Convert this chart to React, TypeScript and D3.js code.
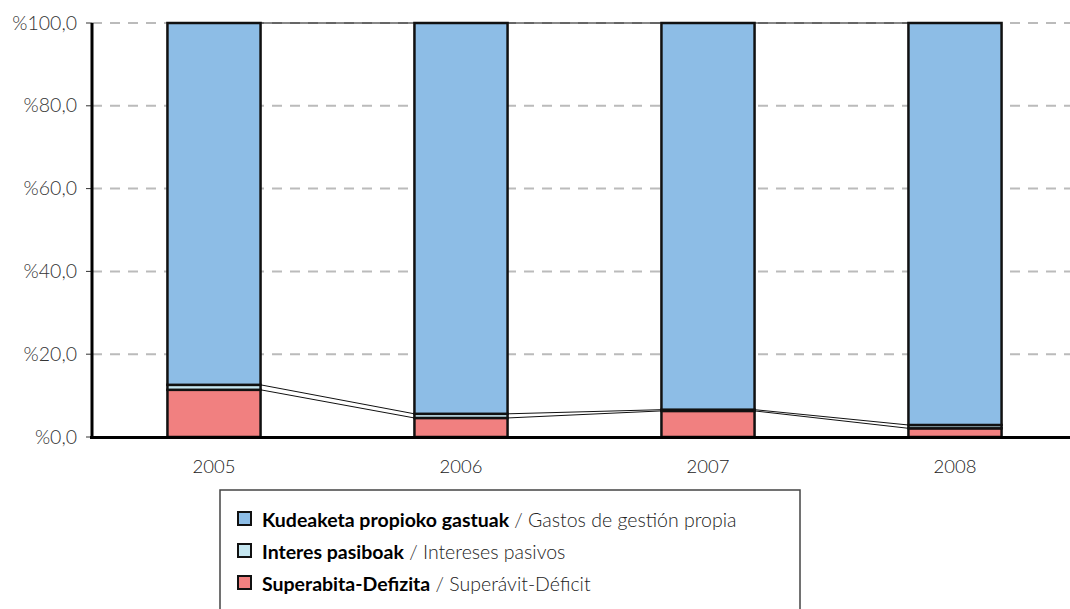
import React from "react";
import * as d3 from "d3";

const years = ["2005", "2006", "2007", "2008"];
const superavit = [11.4, 4.6, 6.3, 2.1];
const interes = [1.2, 1.0, 0.3, 0.8];
const gestion = [87.4, 94.4, 93.4, 97.1];
const yTicks = [0, 20, 40, 60, 80, 100];
const seriesNames = [
  { bold: "Kudeaketa propioko gastuak", rest: " / Gastos de gestión propia", color: "#8dbde6" },
  { bold: "Interes pasiboak", rest: " / Intereses pasivos", color: "#c5e6f0" },
  { bold: "Superabita-Defizita", rest: " / Superávit-Déficit", color: "#f18080" },
];

const W = 1070;
const H = 609;

export default function App() {
  const x = d3
    .scaleBand<string>()
    .domain(years)
    .range([90.5, 1078.5])
    .paddingInner(0.623)
    .paddingOuter(0.3115);
  const y = d3.scaleLinear().domain([0, 100]).range([437, 23]);

  const stackData = years.map((yr, i) => ({
    year: yr,
    superavit: superavit[i],
    interes: interes[i],
    gestion: gestion[i],
  }));
  const stack = d3.stack<any>().keys(["superavit", "interes", "gestion"]);
  const series = stack(stackData);
  const colors: Record<string, string> = {
    superavit: "#f18080",
    interes: "#c5e6f0",
    gestion: "#8dbde6",
  };

  const font = "Lato, 'DejaVu Sans', sans-serif";
  const bw = x.bandwidth();

  return (
    <svg
      width={W}
      height={H}
      style={{ position: "absolute", left: 0, top: 0, background: "#fff" }}
      fontFamily={font}
    >
      {/* gridlines */}
      {yTicks.slice(1).map((t) => (
        <line
          key={t}
          x1={92}
          x2={1070}
          y1={y(t)}
          y2={y(t)}
          stroke="#bbbbbb"
          strokeWidth={2}
          strokeDasharray="10 8"
        />
      ))}
      {/* y tick labels */}
      {yTicks.map((t) => (
        <g key={t}>
          <line x1={86} x2={92} y1={y(t)} y2={y(t)} stroke="#333" strokeWidth={1} />
          <text
            x={77}
            y={y(t) + 6.5}
            textAnchor="end"
            fontSize={19.5}
            fill="#333"
            fontWeight={300}
          >
            {"%" + t.toFixed(1).replace(".", ",")}
          </text>
        </g>
      ))}
      {/* series lines */}
      {series.map((s) =>
        years.slice(0, -1).map((yr, i) => (
          <line
            key={s.key + yr}
            x1={(x(yr) as number) + bw}
            x2={x(years[i + 1]) as number}
            y1={y(s[i][1])}
            y2={y(s[i + 1][1])}
            stroke="#111"
            strokeWidth={1}
          />
        ))
      )}
      {/* bars */}
      {series.map((s) =>
        s.map((d, i) => (
          <rect
            key={s.key + i}
            x={x(years[i]) as number}
            y={y(d[1])}
            width={bw}
            height={y(d[0]) - y(d[1])}
            fill={colors[s.key]}
            stroke="#111"
            strokeWidth={2.5}
          />
        ))
      )}
      {/* axes */}
      <line x1={92} x2={92} y1={23} y2={439} stroke="#000" strokeWidth={3} />
      <line x1={90} x2={1070} y1={437.5} y2={437.5} stroke="#000" strokeWidth={3} />
      {years.map((yr) => (
        <text
          key={yr}
          x={(x(yr) as number) + bw / 2}
          y={473}
          textAnchor="middle"
          fontSize={18.5}
          fill="#222"
          fontWeight={300}
        >
          {yr}
        </text>
      ))}
      {/* legend */}
      <rect x={220} y={490} width={580} height={140} fill="#fff" stroke="#444" strokeWidth={1.5} />
      {seriesNames.map((s, i) => (
        <g key={s.bold} transform={`translate(0, ${i * 32})`}>
          <rect x={238} y={512} width={13} height={13} fill={s.color} stroke="#111" strokeWidth={2} />
          <text x={262} y={527} fontSize={19.5} fill="#000">
            <tspan fontWeight={700}>{s.bold}</tspan>
            <tspan fontWeight={300} fill="#222">{s.rest}</tspan>
          </text>
        </g>
      ))}
    </svg>
  );
}
